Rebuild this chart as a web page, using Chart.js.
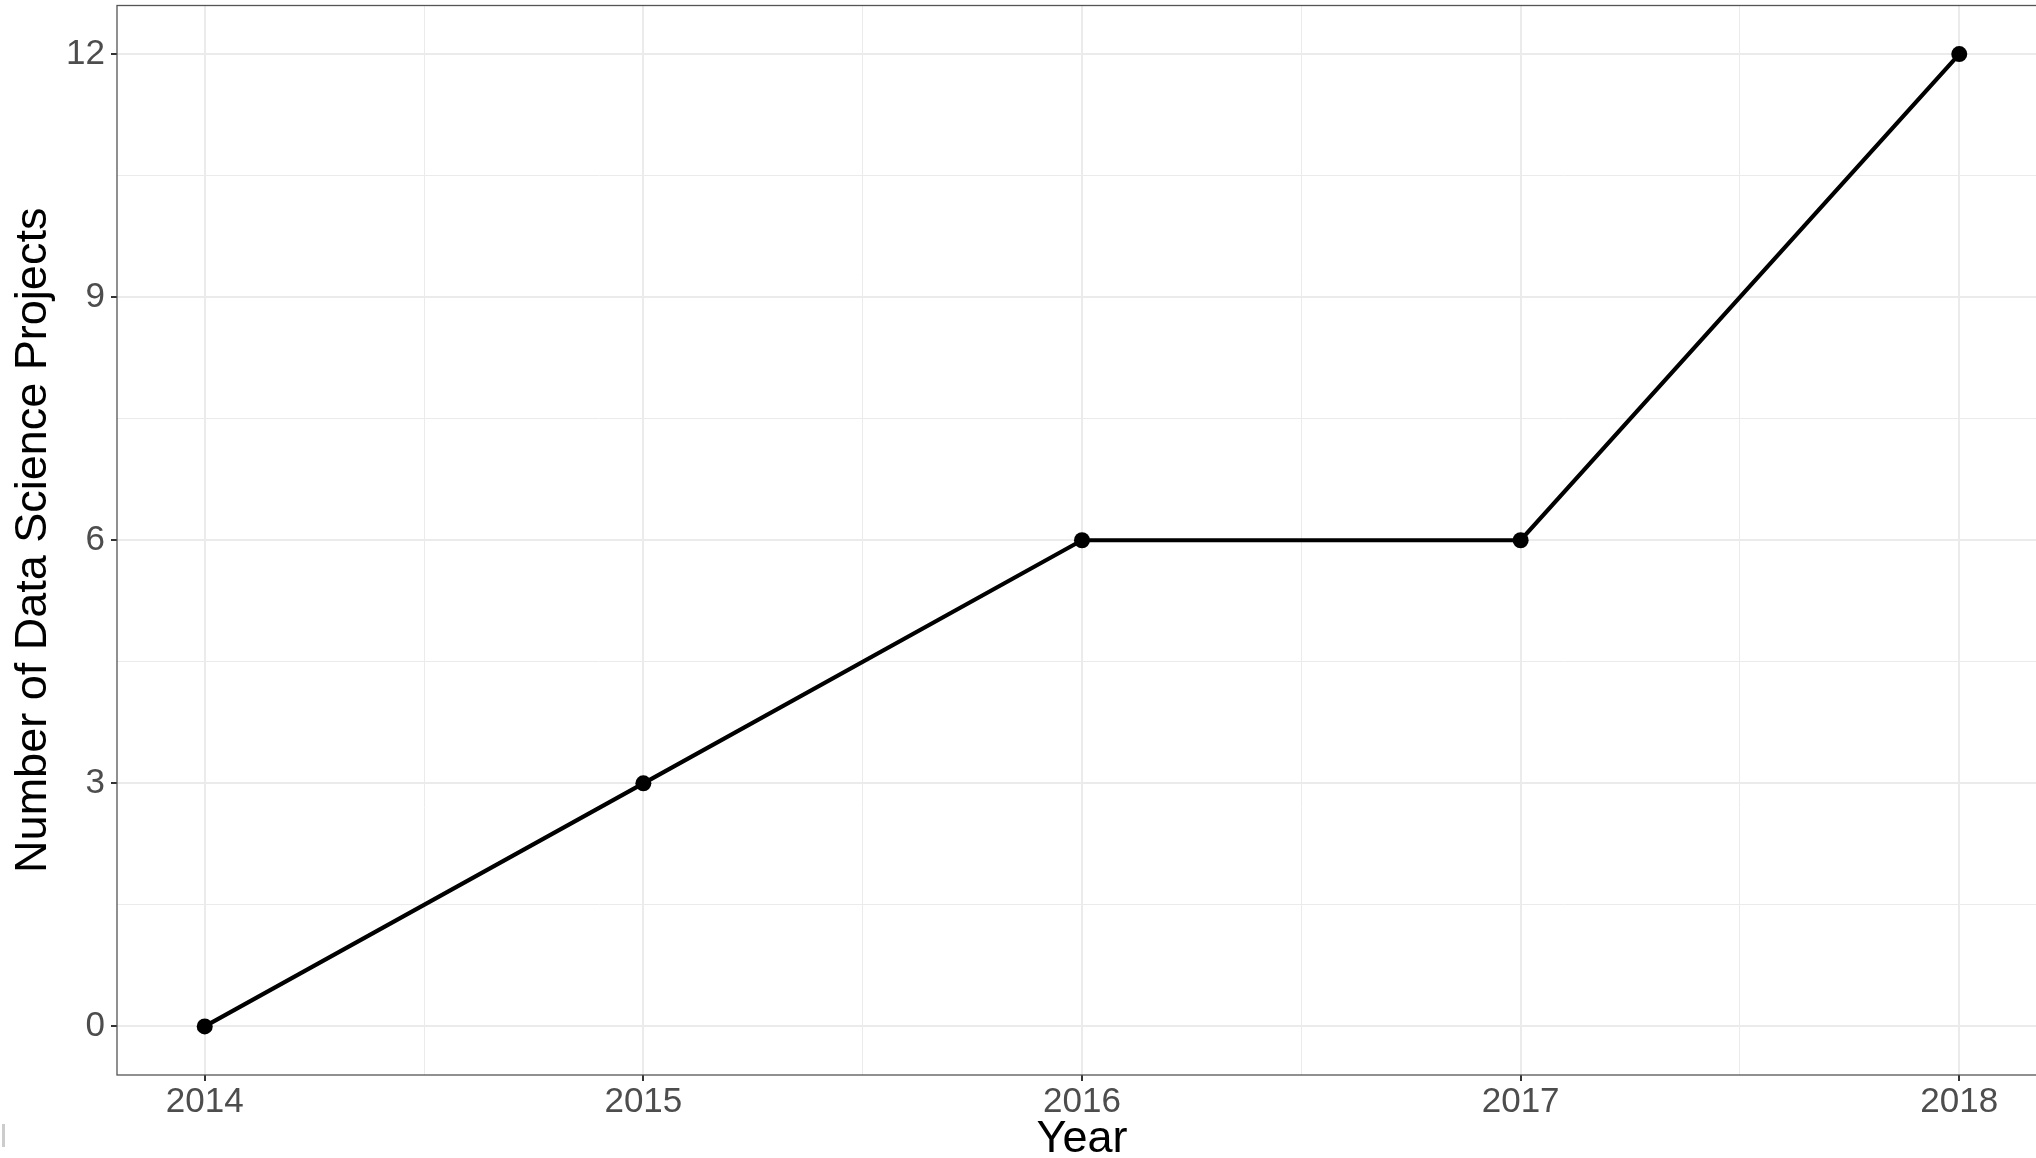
<!DOCTYPE html>
<html>
<head>
<meta charset="utf-8">
<script src="https://cdn.jsdelivr.net/npm/chart.js@4"></script>
<style>
  html, body { margin: 0; padding: 0; background: #fff; overflow: hidden; }
  #wrap { width: 2036px; height: 1158px; overflow: hidden; position: relative; }
  canvas { display: block; }
</style>
</head>
<body>
<div id="wrap"><canvas id="projects-chart" width="2047" height="1158"></canvas></div>
<script>
// Chart data
var years = [2014, 2015, 2016, 2017, 2018];
var projects = [0, 3, 6, 6, 12];
var yTicks = [0, 3, 6, 9, 12];

// major ticks + the minor gridlines half way between them
function withMinor(major) {
    var out = [];
    for (var i = 0; i < major.length; i++) {
        out.push({ value: major[i], major: true });
        if (i < major.length - 1) out.push({ value: (major[i] + major[i + 1]) / 2, major: false });
    }
    return out;
}

function isMajor(ctx) { return ctx.tick && ctx.tick.major; }

var gridOpts = {
    color: '#ebebeb',
    lineWidth: function(ctx) { return isMajor(ctx) ? 2 : 1; },
    drawTicks: true,
    tickLength: 6,
    tickWidth: 2,
    tickColor: function(ctx) { return isMajor(ctx) ? '#333333' : 'rgba(0,0,0,0)'; }
};

// panel border all round, like theme_bw
var panelBorder = {
    id: 'panelBorder',
    afterDraw: function(chart) {
        var a = chart.chartArea, c = chart.ctx;
        c.save();
        c.strokeStyle = '#555555';
        c.lineWidth = 1.3;
        c.strokeRect(a.left, a.top, a.right - a.left, a.bottom - a.top);
        c.fillStyle = '#cccccc';
        c.fillRect(2, 1124, 3, 23);
        c.restore();
    }
};

var ctx = document.getElementById('projects-chart');

var config = {
    type: 'line',
    data: {
        datasets: [{
            label: 'Projects',
            data: years.map(function(y, i) { return { x: y, y: projects[i] }; }),
            borderColor: '#000000',
            backgroundColor: '#000000',
            borderWidth: 4.2,
            pointRadius: 8,
            pointBorderWidth: 0,
            pointHoverRadius: 8,
            tension: 0
        }]
    },
    options: {
        responsive: false,
        animation: false,
        layout: { autoPadding: false, padding: { top: 5.5, left: 0, right: 0, bottom: 0 } },
        plugins: {
            legend: { display: false },
            tooltip: { enabled: false }
        },
        scales: {
            x: {
                type: 'linear',
                min: 2013.8,
                max: 2018.2,
                afterBuildTicks: function(scale) { scale.ticks = withMinor(years); },
                afterFit: function(scale) {
                    scale.height = 83;
                    scale.paddingLeft = 0;
                    scale.paddingRight = 0;
                },
                grid: gridOpts,
                border: { display: false },
                ticks: {
                    color: '#4d4d4d',
                    font: { family: 'Liberation Sans', size: 35 },
                    padding: 0,
                    maxRotation: 0,
                    autoSkip: false,
                    callback: function(v) { return years.indexOf(v) >= 0 ? String(v) : ''; }
                },
                title: {
                    display: true,
                    text: 'Year',
                    color: '#000000',
                    font: { family: 'Liberation Sans', size: 45, lineHeight: 0.8 },
                    padding: { top: 0, bottom: 0 }
                }
            },
            y: {
                min: -0.6,
                max: 12.6,
                afterBuildTicks: function(scale) { scale.ticks = withMinor(yTicks); },
                afterFit: function(scale) {
                    scale.width = 117;
                    scale.paddingTop = 0;
                    scale.paddingBottom = 0;
                },
                grid: gridOpts,
                border: { display: false },
                ticks: {
                    color: '#4d4d4d',
                    font: { family: 'Liberation Sans', size: 35 },
                    padding: 6,
                    autoSkip: false,
                    callback: function(v) { return yTicks.indexOf(v) >= 0 ? String(v) : ''; }
                },
                title: {
                    display: true,
                    text: 'Number of Data Science Projects',
                    color: '#000000',
                    font: { family: 'Liberation Sans', size: 45, lineHeight: 1.2 },
                    padding: { top: 7, bottom: 0 }
                }
            }
        }
    },
    plugins: [panelBorder]
};

var projectsChart = new Chart(ctx, config);
</script>
</body>
</html>
